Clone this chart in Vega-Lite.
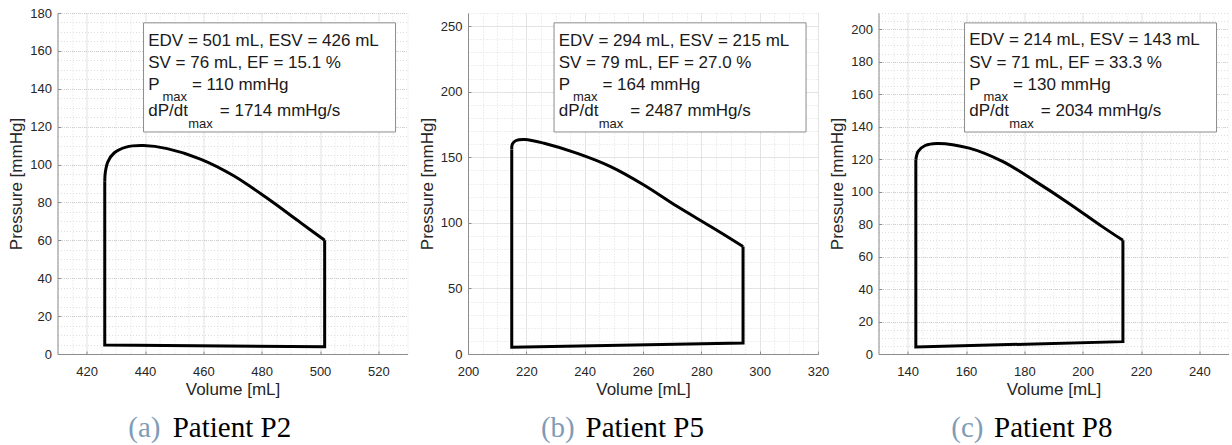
{
  "$schema": "https://vega.github.io/schema/vega-lite/v6.json",
  "background": "white",
  "padding": {"left": 7.5, "top": 7, "right": 0, "bottom": 0},
  "bounds": "flush",
  "spacing": 60.5,
  "config": {
    "view": {"stroke": null},
    "axis": {
      "labelFont": "Liberation Sans", "labelFontSize": 13, "labelColor": "#262626",
      "titleFont": "Liberation Sans", "titleFontSize": 17, "titleColor": "#262626", "titleFontWeight": "normal",
      "domainColor": "#8c8c8c", "tickColor": "#8c8c8c", "labelFlush": false, "labelOverlap": false
    }
  },
  "hconcat": [
    {
      "width": 350, "height": 341,
      "resolve": {"axis": {"x": "independent", "y": "independent"}},
      "layer": [
        {
          "data": {"values": [
            {"i":1,"v":426.2,"p":91.0},{"i":2,"v":426.2,"p":4.8},{"i":3,"v":501.6,"p":3.8},{"i":4,"v":501.6,"p":60.0}
          ]},
          "mark": {"type": "line", "color": "black", "strokeWidth": 3, "strokeJoin": "miter"},
          "encoding": {
            "x": {"field": "v", "type": "quantitative", "scale": {"domain": [410, 530], "nice": false, "zero": false},
              "axis": {"orient": "bottom", "values": [410,415,420,425,430,435,440,445,450,455,460,465,470,475,480,485,490,495,500,505,510,515,520,525,530], "labels": false, "ticks": false, "domain": false, "title": null, "grid": true, "gridDash": [1, 2], "gridColor": "#dedede"}},
            "y": {"field": "p", "type": "quantitative", "scale": {"domain": [0, 180], "nice": false, "zero": false},
              "axis": {"orient": "left", "values": [0,5,10,15,20,25,30,35,40,45,50,55,60,65,70,75,80,85,90,95,100,105,110,115,120,125,130,135,140,145,150,155,160,165,170,175,180], "labels": false, "ticks": false, "domain": false, "title": null, "grid": true, "gridDash": [1, 2], "gridColor": "#dedede"}},
            "order": {"field": "i", "type": "quantitative"}
          }
        },
        {
          "data": {"values": [
            {"i":1,"v":501.6,"p":60.0},{"i":2,"v":493.2,"p":69.5},{"i":3,"v":481.8,"p":82.3},{"i":4,"v":470.4,"p":94.1},
            {"i":5,"v":459.0,"p":102.9},{"i":6,"v":447.6,"p":108.4},{"i":7,"v":439.5,"p":110.0},{"i":8,"v":433.5,"p":109.2},
            {"i":9,"v":429.4,"p":106.1},{"i":10,"v":427.3,"p":101.5},{"i":11,"v":426.4,"p":96.0},{"i":12,"v":426.2,"p":91.0}
          ]},
          "mark": {"type": "line", "color": "black", "strokeWidth": 3, "interpolate": "catmull-rom"},
          "encoding": {
            "x": {"field": "v", "type": "quantitative", "axis": null},
            "y": {"field": "p", "type": "quantitative", "axis": null},
            "order": {"field": "i", "type": "quantitative"}
          }
        },
        {
          "data": {"values": [{"v": 439.5, "v2": 525.9, "p": 174.8, "p2": 117.2}]},
          "mark": {"type": "rect", "fill": "white", "stroke": "#8c8c8c", "strokeWidth": 1},
          "encoding": {
            "x": {"field": "v", "type": "quantitative",
              "axis": {"orient": "bottom", "values": [420,440,460,480,500,520], "title": "Volume [mL]", "grid": true, "gridDash": [1, 1], "gridColor": "#d2d2d2", "tickSize": -3, "labelPadding": 14, "titlePadding": 3}},
            "x2": {"field": "v2"},
            "y": {"field": "p", "type": "quantitative",
              "axis": {"orient": "left", "values": [0,20,40,60,80,100,120,140,160,180], "title": "Pressure [mmHg]", "grid": true, "gridDash": [1, 1], "gridColor": "#d2d2d2", "tickSize": -3, "labelPadding": 9, "titlePadding": 4}},
            "y2": {"field": "p2"}
          }
        },
        {
          "data": {"values": [
            {"v":441.1,"p":162.8,"t":"EDV = 501 mL, ESV = 426 mL"},
            {"v":441.1,"p":151.0,"t":"SV = 76 mL, EF = 15.1 %"},
            {"v":441.1,"p":139.6,"t":"P"},
            {"v":456.1,"p":139.6,"t":"= 110 mmHg"},
            {"v":441.1,"p":125.4,"t":"dP/dt"},
            {"v":465.65,"p":125.4,"t":"= 1714 mmHg/s"}
          ]},
          "mark": {"type": "text", "font": "Liberation Sans", "fontSize": 17, "align": "left", "baseline": "alphabetic", "color": "#1a1a1a"},
          "encoding": {"x": {"field": "v", "type": "quantitative", "axis": null}, "y": {"field": "p", "type": "quantitative", "axis": null}, "text": {"field": "t"}}
        },
        {
          "data": {"values": [{"v":446.0,"p":133.7,"t":"max"},{"v":454.8,"p":119.5,"t":"max"}]},
          "mark": {"type": "text", "font": "Liberation Sans", "fontSize": 13, "align": "left", "baseline": "alphabetic", "color": "#1a1a1a"},
          "encoding": {"x": {"field": "v", "type": "quantitative", "axis": null}, "y": {"field": "p", "type": "quantitative", "axis": null}, "text": {"field": "t"}}
        },
        {
          "data": {"values": [{"v":445.3,"p":-43.9,"t":"(a)"}]},
          "mark": {"type": "text", "font": "Liberation Serif", "fontSize": 29, "align": "right", "baseline": "alphabetic", "color": "#7f9cb6"},
          "encoding": {"x": {"field": "v", "type": "quantitative", "axis": null}, "y": {"field": "p", "type": "quantitative", "axis": null}, "text": {"field": "t"}}
        },
        {
          "data": {"values": [{"v":449.5,"p":-43.9,"t":"Patient P2"}]},
          "mark": {"type": "text", "font": "Liberation Serif", "fontSize": 29, "align": "left", "baseline": "alphabetic", "color": "black"},
          "encoding": {"x": {"field": "v", "type": "quantitative", "axis": null}, "y": {"field": "p", "type": "quantitative", "axis": null}, "text": {"field": "t"}}
        }
      ]
    },
    {
      "width": 350, "height": 341,
      "resolve": {"axis": {"x": "independent", "y": "independent"}},
      "layer": [
        {
          "data": {"values": [
            {"i":1,"v":215.0,"p":156.0},{"i":2,"v":215.0,"p":5.1},{"i":3,"v":294.3,"p":8.4},{"i":4,"v":294.3,"p":82.0}
          ]},
          "mark": {"type": "line", "color": "black", "strokeWidth": 3, "strokeJoin": "miter"},
          "encoding": {
            "x": {"field": "v", "type": "quantitative", "scale": {"domain": [200, 320], "nice": false, "zero": false},
              "axis": {"orient": "bottom", "values": [200,205,210,215,220,225,230,235,240,245,250,255,260,265,270,275,280,285,290,295,300,305,310,315,320], "labels": false, "ticks": false, "domain": false, "title": null, "grid": true, "gridDash": [1, 2], "gridColor": "#dedede"}},
            "y": {"field": "p", "type": "quantitative", "scale": {"domain": [0, 260], "nice": false, "zero": false},
              "axis": {"orient": "left", "values": [0,10,20,30,40,50,60,70,80,90,100,110,120,130,140,150,160,170,180,190,200,210,220,230,240,250,260], "labels": false, "ticks": false, "domain": false, "title": null, "grid": true, "gridDash": [1, 2], "gridColor": "#dedede"}},
            "order": {"field": "i", "type": "quantitative"}
          }
        },
        {
          "data": {"values": [
            {"i":1,"v":294.3,"p":82.0},{"i":2,"v":283.2,"p":97.2},{"i":3,"v":271.8,"p":112.4},{"i":4,"v":260.3,"p":128.9},
            {"i":5,"v":248.9,"p":142.9},{"i":6,"v":237.5,"p":153.0},{"i":7,"v":226.1,"p":160.7},{"i":8,"v":219.5,"p":163.6},
            {"i":9,"v":216.5,"p":162.8},{"i":10,"v":215.2,"p":160.0},{"i":11,"v":215.0,"p":156.0}
          ]},
          "mark": {"type": "line", "color": "black", "strokeWidth": 3, "interpolate": "catmull-rom"},
          "encoding": {
            "x": {"field": "v", "type": "quantitative", "axis": null},
            "y": {"field": "p", "type": "quantitative", "axis": null},
            "order": {"field": "i", "type": "quantitative"}
          }
        },
        {
          "data": {"values": [{"v": 229.5, "v2": 315.9, "p": 252.5, "p2": 169.3}]},
          "mark": {"type": "rect", "fill": "white", "stroke": "#8c8c8c", "strokeWidth": 1},
          "encoding": {
            "x": {"field": "v", "type": "quantitative",
              "axis": {"orient": "bottom", "values": [200,220,240,260,280,300,320], "title": "Volume [mL]", "grid": true, "gridDash": [1, 1], "gridColor": "#d2d2d2", "tickSize": -3, "labelPadding": 14, "titlePadding": 3}},
            "x2": {"field": "v2"},
            "y": {"field": "p", "type": "quantitative",
              "axis": {"orient": "left", "values": [0,50,100,150,200,250], "title": "Pressure [mmHg]", "grid": true, "gridDash": [1, 1], "gridColor": "#d2d2d2", "tickSize": -3, "labelPadding": 9, "titlePadding": 4}},
            "y2": {"field": "p2"}
          }
        },
        {
          "data": {"values": [
            {"v":231.1,"p":235.2,"t":"EDV = 294 mL, ESV = 215 mL"},
            {"v":231.1,"p":218.2,"t":"SV = 79 mL, EF = 27.0 %"},
            {"v":231.1,"p":201.6,"t":"P"},
            {"v":246.1,"p":201.6,"t":"= 164 mmHg"},
            {"v":231.1,"p":181.2,"t":"dP/dt"},
            {"v":255.65,"p":181.2,"t":"= 2487 mmHg/s"}
          ]},
          "mark": {"type": "text", "font": "Liberation Sans", "fontSize": 17, "align": "left", "baseline": "alphabetic", "color": "#1a1a1a"},
          "encoding": {"x": {"field": "v", "type": "quantitative", "axis": null}, "y": {"field": "p", "type": "quantitative", "axis": null}, "text": {"field": "t"}}
        },
        {
          "data": {"values": [{"v":236.0,"p":193.2,"t":"max"},{"v":244.8,"p":172.6,"t":"max"}]},
          "mark": {"type": "text", "font": "Liberation Sans", "fontSize": 13, "align": "left", "baseline": "alphabetic", "color": "#1a1a1a"},
          "encoding": {"x": {"field": "v", "type": "quantitative", "axis": null}, "y": {"field": "p", "type": "quantitative", "axis": null}, "text": {"field": "t"}}
        },
        {
          "data": {"values": [{"v":236.6,"p":-63.4,"t":"(b)"}]},
          "mark": {"type": "text", "font": "Liberation Serif", "fontSize": 29, "align": "right", "baseline": "alphabetic", "color": "#7f9cb6"},
          "encoding": {"x": {"field": "v", "type": "quantitative", "axis": null}, "y": {"field": "p", "type": "quantitative", "axis": null}, "text": {"field": "t"}}
        },
        {
          "data": {"values": [{"v":240.3,"p":-63.4,"t":"Patient P5"}]},
          "mark": {"type": "text", "font": "Liberation Serif", "fontSize": 29, "align": "left", "baseline": "alphabetic", "color": "black"},
          "encoding": {"x": {"field": "v", "type": "quantitative", "axis": null}, "y": {"field": "p", "type": "quantitative", "axis": null}, "text": {"field": "t"}}
        }
      ]
    },
    {
      "width": 350, "height": 341,
      "resolve": {"axis": {"x": "independent", "y": "independent"}},
      "layer": [
        {
          "data": {"values": [
            {"i":1,"v":142.8,"p":119.6},{"i":2,"v":142.8,"p":4.3},{"i":3,"v":213.8,"p":7.6},{"i":4,"v":213.8,"p":70.0}
          ]},
          "mark": {"type": "line", "color": "black", "strokeWidth": 3, "strokeJoin": "miter"},
          "encoding": {
            "x": {"field": "v", "type": "quantitative", "scale": {"domain": [130, 250], "nice": false, "zero": false},
              "axis": {"orient": "bottom", "values": [130,135,140,145,150,155,160,165,170,175,180,185,190,195,200,205,210,215,220,225,230,235,240,245,250], "labels": false, "ticks": false, "domain": false, "title": null, "grid": true, "gridDash": [1, 2], "gridColor": "#dedede"}},
            "y": {"field": "p", "type": "quantitative", "scale": {"domain": [0, 210], "nice": false, "zero": false},
              "axis": {"orient": "left", "values": [0,5,10,15,20,25,30,35,40,45,50,55,60,65,70,75,80,85,90,95,100,105,110,115,120,125,130,135,140,145,150,155,160,165,170,175,180,185,190,195,200,205,210], "labels": false, "ticks": false, "domain": false, "title": null, "grid": true, "gridDash": [1, 2], "gridColor": "#dedede"}},
            "order": {"field": "i", "type": "quantitative"}
          }
        },
        {
          "data": {"values": [
            {"i":1,"v":213.8,"p":70.0},{"i":2,"v":206.6,"p":78.6},{"i":3,"v":195.2,"p":92.9},{"i":4,"v":183.8,"p":106.3},
            {"i":5,"v":172.5,"p":118.6},{"i":6,"v":161.1,"p":126.8},{"i":7,"v":150.0,"p":129.7},{"i":8,"v":146.0,"p":128.4},
            {"i":9,"v":143.6,"p":124.8},{"i":10,"v":142.8,"p":119.6}
          ]},
          "mark": {"type": "line", "color": "black", "strokeWidth": 3, "interpolate": "catmull-rom"},
          "encoding": {
            "x": {"field": "v", "type": "quantitative", "axis": null},
            "y": {"field": "p", "type": "quantitative", "axis": null},
            "order": {"field": "i", "type": "quantitative"}
          }
        },
        {
          "data": {"values": [{"v": 159.5, "v2": 245.9, "p": 203.9, "p2": 136.7}]},
          "mark": {"type": "rect", "fill": "white", "stroke": "#8c8c8c", "strokeWidth": 1},
          "encoding": {
            "x": {"field": "v", "type": "quantitative",
              "axis": {"orient": "bottom", "values": [140,160,180,200,220,240], "title": "Volume [mL]", "grid": true, "gridDash": [1, 1], "gridColor": "#d2d2d2", "tickSize": -3, "labelPadding": 14, "titlePadding": 3}},
            "x2": {"field": "v2"},
            "y": {"field": "p", "type": "quantitative",
              "axis": {"orient": "left", "values": [0,20,40,60,80,100,120,140,160,180,200], "title": "Pressure [mmHg]", "grid": true, "gridDash": [1, 1], "gridColor": "#d2d2d2", "tickSize": -3, "labelPadding": 9, "titlePadding": 4}},
            "y2": {"field": "p2"}
          }
        },
        {
          "data": {"values": [
            {"v":161.1,"p":190.0,"t":"EDV = 214 mL, ESV = 143 mL"},
            {"v":161.1,"p":176.2,"t":"SV = 71 mL, EF = 33.3 %"},
            {"v":161.1,"p":162.8,"t":"P"},
            {"v":176.1,"p":162.8,"t":"= 130 mmHg"},
            {"v":161.1,"p":146.3,"t":"dP/dt"},
            {"v":185.65,"p":146.3,"t":"= 2034 mmHg/s"}
          ]},
          "mark": {"type": "text", "font": "Liberation Sans", "fontSize": 17, "align": "left", "baseline": "alphabetic", "color": "#1a1a1a"},
          "encoding": {"x": {"field": "v", "type": "quantitative", "axis": null}, "y": {"field": "p", "type": "quantitative", "axis": null}, "text": {"field": "t"}}
        },
        {
          "data": {"values": [{"v":166.0,"p":156.0,"t":"max"},{"v":174.8,"p":139.4,"t":"max"}]},
          "mark": {"type": "text", "font": "Liberation Sans", "fontSize": 13, "align": "left", "baseline": "alphabetic", "color": "#1a1a1a"},
          "encoding": {"x": {"field": "v", "type": "quantitative", "axis": null}, "y": {"field": "p", "type": "quantitative", "axis": null}, "text": {"field": "t"}}
        },
        {
          "data": {"values": [{"v":166.0,"p":-51.2,"t":"(c)"}]},
          "mark": {"type": "text", "font": "Liberation Serif", "fontSize": 29, "align": "right", "baseline": "alphabetic", "color": "#7f9cb6"},
          "encoding": {"x": {"field": "v", "type": "quantitative", "axis": null}, "y": {"field": "p", "type": "quantitative", "axis": null}, "text": {"field": "t"}}
        },
        {
          "data": {"values": [{"v":169.6,"p":-51.2,"t":"Patient P8"}]},
          "mark": {"type": "text", "font": "Liberation Serif", "fontSize": 29, "align": "left", "baseline": "alphabetic", "color": "black"},
          "encoding": {"x": {"field": "v", "type": "quantitative", "axis": null}, "y": {"field": "p", "type": "quantitative", "axis": null}, "text": {"field": "t"}}
        }
      ]
    }
  ]
}
